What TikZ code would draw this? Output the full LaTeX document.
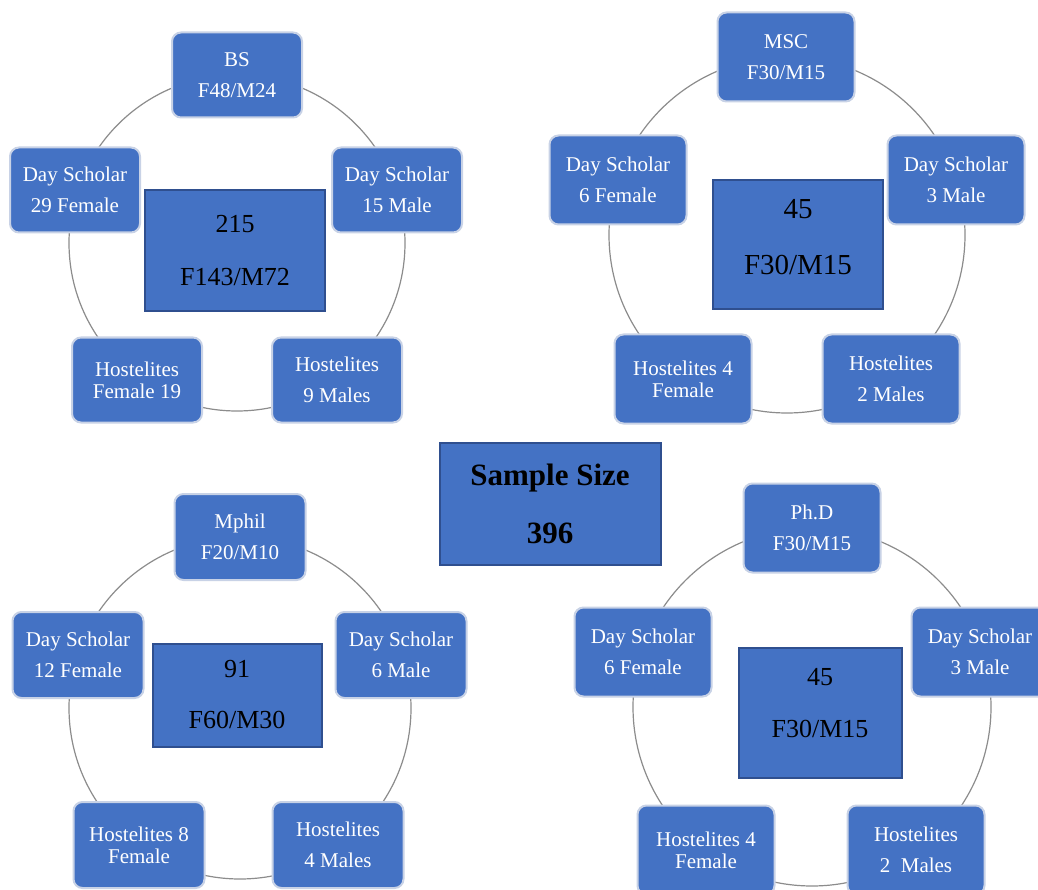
\documentclass[tikz,border=0pt]{standalone}
\usepackage{fontspec}
\setmainfont{Liberation Serif}
\definecolor{boxblue}{HTML}{4472C4}
\definecolor{boxedge}{HTML}{2F4F8F}
\definecolor{itemedge}{HTML}{C8D2E6}
\definecolor{ringgray}{HTML}{8C8C8C}
\tikzset{
  item/.style={draw=itemedge, line width=2pt, fill=boxblue, rounded corners=9pt,
    text=white, align=center, inner sep=2pt,
    font=\fontsize{21}{31}\selectfont},
  itemA/.style={item, minimum width=130pt, minimum height=85pt},
  itemB/.style={item, minimum width=137pt, minimum height=89pt},
  itemC/.style={item, minimum width=131pt, minimum height=86pt},
  tight/.style={font=\fontsize{21}{22}\selectfont},
  ring/.style={draw=ringgray, line width=1.2pt},
  total/.style={draw=boxedge, line width=2pt, fill=boxblue, text=black, align=center}
}
\begin{document}
\begin{tikzpicture}[x=1pt, y=-1pt]
\useasboundingbox (0,0) rectangle (1038,890);
\clip (0,0) rectangle (1038,890);
\fill[white] (0,0) rectangle (1038,890);

% ---------- BS cycle ----------
\coordinate (c1) at (237,243);
\draw[ring] (c1) circle (168);
\node[itemA] (bs)   at (237,75)  {BS\\F48/M24};
\node[itemA] (bsl)  at (75,190)  {Day Scholar\\29 Female};
\node[itemA] (bsr)  at (397,190) {Day Scholar\\15 Male};
\node[itemA,tight] (bsbl) at (137,380) {Hostelites\\Female 19};
\node[itemA] (bsbr) at (337,380) {Hostelites\\9 Males};
\node[total, minimum width=180pt, minimum height=121pt,
  font=\fontsize{26}{53}\selectfont] (bst) at (235,251) {215\\F143/M72};

% ---------- MSC cycle ----------
\coordinate (c2) at (787,235);
\draw[ring] (c2) circle (178);
\node[itemB] (ms)   at (786,57)  {MSC\\F30/M15};
\node[itemB] (msl)  at (618,180) {Day Scholar\\6 Female};
\node[itemB] (msr)  at (956,180) {Day Scholar\\3 Male};
\node[itemB,tight] (msbl) at (683,379) {Hostelites 4\\Female};
\node[itemB] (msbr) at (891,379) {Hostelites\\2 Males};
\node[total, minimum width=170pt, minimum height=129pt,
  font=\fontsize{29}{56}\selectfont] (mst) at (798,245) {45\\F30/M15\\[-40pt]};

% ---------- Mphil cycle ----------
\coordinate (c3) at (240,708);
\draw[ring] (c3) circle (171);
\node[itemC] (mp)   at (240,537) {Mphil\\F20/M10};
\node[itemC] (mpl)  at (78,655)  {Day Scholar\\12 Female};
\node[itemC] (mpr)  at (401,655) {Day Scholar\\6 Male};
\node[itemC,tight] (mpbl) at (139,845) {Hostelites 8\\Female};
\node[itemC] (mpbr) at (338,845) {Hostelites\\4 Males};
\node[total, minimum width=169pt, minimum height=103pt,
  font=\fontsize{26}{51}\selectfont] (mpt) at (237,695) {91\\F60/M30};

% ---------- PhD cycle ----------
\coordinate (c4) at (812,707);
\draw[ring] (c4) circle (179);
\node[itemB] (ph)   at (812,528) {Ph.D\\F30/M15};
\node[itemB] (phl)  at (643,652) {Day Scholar\\6 Female};
\node[itemB] (phr)  at (980,652) {Day Scholar\\3 Male};
\node[itemB,tight] (phbl) at (706,850) {Hostelites 4\\Female};
\node[itemB] (phbr) at (916,850) {Hostelites\\2\ \ Males};
\node[total, minimum width=163pt, minimum height=130pt,
  font=\fontsize{26}{52}\selectfont] (pht) at (820,713) {45\\F30/M15\\[-32pt]};

% ---------- Sample size ----------
\node[total, minimum width=221pt, minimum height=122pt,
  font=\bfseries\fontsize{31}{58}\selectfont] (ss) at (550,504) {Sample Size\\396};
\end{tikzpicture}
\end{document}
